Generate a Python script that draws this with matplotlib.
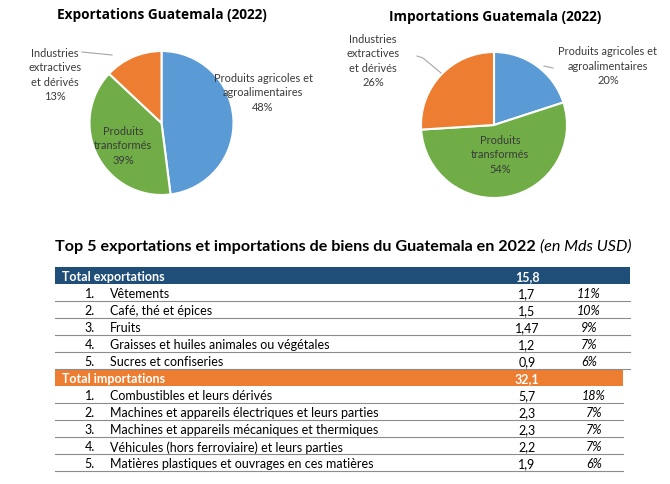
import matplotlib.pyplot as plt
from matplotlib.patches import Rectangle

W, H = 670, 485

# pie data (%)
pie_labels = ["Produits agricoles et\nagroalimentaires", "Produits\ntransformés", "Industries\nextractives\net dérivés"]
exp_shares = [48, 39, 13]
imp_shares = [20, 54, 26]
pie_colors = ["#5B9BD5", "#70AD47", "#ED7D31"]

# table data (Mds USD)
exp_total = 15.8
exp_items = ["Vêtements", "Café, thé et épices", "Fruits",
             "Graisses et huiles animales ou végétales", "Sucres et confiseries"]
exp_vals = [1.7, 1.5, 1.47, 1.2, 0.9]
exp_pcts = [11, 10, 9, 7, 6]

imp_total = 32.1
imp_items = ["Combustibles et leurs dérivés",
             "Machines et appareils électriques et leurs parties",
             "Machines et appareils mécaniques et thermiques",
             "Véhicules (hors ferroviaire) et leurs parties",
             "Matières plastiques et ouvrages en ces matières"]
imp_vals = [5.7, 2.3, 2.3, 2.2, 1.9]
imp_pcts = [18, 7, 7, 7, 6]


def fr(v):
    return str(v).replace('.', ',')


fig = plt.figure(figsize=(W / 100, H / 100), dpi=100)
base = fig.add_axes([0, 0, 1, 1])
base.set_xlim(0, W)
base.set_ylim(H, 0)
base.axis('off')
base.set_zorder(5)  # text and lines above the pies

lbl_font = dict(family='Lato', fontsize=7.9, color='#3A3A3A', ha='center', va='center', linespacing=1.4)
tab_fs = 9.0


def draw_pie(cx, cy, r, shares, title, tx, ty, label_pos):
    ax = fig.add_axes([(cx - r) / W, 1 - (cy + r) / H, 2 * r / W, 2 * r / H])
    ax.pie(shares, colors=pie_colors, startangle=90, counterclock=False,
           wedgeprops=dict(edgecolor='white', linewidth=1.5))
    ax.set_xlim(-1, 1)
    ax.set_ylim(-1, 1)
    ax.axis('off')
    base.text(tx, ty, title, family='Open Sans', fontweight='bold', fontsize=9.8,
              ha='center', va='center', color='black')
    for lab, s, (x, y) in zip(pie_labels, shares, label_pos):
        base.text(x, y, f"{lab}\n{s}%", **lbl_font)


draw_pie(161.5, 124, 72, exp_shares, "Exportations Guatemala (2022)", 162, 15,
         [(263, 93), (123, 146), (55, 75)])
draw_pie(494, 126, 73, imp_shares, "Importations Guatemala (2022)", 495, 17,
         [(608, 66), (500, 155), (373, 61)])

# leader lines
base.plot([82, 112], [53, 56], color='#A6A6A6', lw=0.8)
base.plot([417, 423, 441], [57, 59, 74], color='#A6A6A6', lw=0.8)
base.plot([544, 553], [67, 69], color='#A6A6A6', lw=0.8)

# table title
t1 = base.text(55, 247, "Top 5 exportations et importations de biens du Guatemala en 2022",
               family='Lato', fontweight='bold', fontsize=11.6, va='center', ha='left')
fig.canvas.draw()
bb = t1.get_window_extent()
x_end = bb.x1 + 4
base.text(x_end, 247, "(en Mds USD)", family='Lato', style='italic', fontsize=11.6,
          va='center', ha='left')

row_h = 17
x0 = 55
x_num = 95
x_item = 110
x_val = 527
x_pct = 589
dy = 1.0  # text sits slightly low in the cells


def draw_block(y, total, header, color, right, items, vals, pcts, pct_x):
    base.add_patch(Rectangle((x0, y), right - x0, row_h, facecolor=color, edgecolor='none'))
    base.text(62, y + row_h / 2 + dy, header, family='Lato', fontweight='bold', fontsize=tab_fs,
              color='white', va='center')
    base.text(x_val, y + row_h / 2 + dy, fr(total), family='Lato', fontweight='bold', fontsize=tab_fs,
              color='white', va='center', ha='center')
    for i, (it, v, p) in enumerate(zip(items, vals, pcts)):
        yy = y + row_h * (i + 1)
        ty = yy + row_h / 2 + dy
        base.text(x_num, ty, f"{i + 1}.", family='Lato', fontsize=tab_fs, va='center', ha='right')
        base.text(x_item, ty, it, family='Lato', fontsize=tab_fs, va='center', ha='left')
        base.text(x_val, ty, fr(v), family='Lato', fontsize=tab_fs, va='center', ha='center')
        base.text(pct_x, ty, f"{p}%", family='Lato', style='italic', fontsize=tab_fs,
                  va='center', ha='center')
        base.plot([x0, right], [yy + row_h, yy + row_h], color='#8C8C8C', lw=0.8)
    return y + row_h * (len(items) + 1)


y_next = draw_block(268, exp_total, "Total exportations", "#1F4E79", 630,
                    exp_items, exp_vals, exp_pcts, x_pct)
draw_block(y_next, imp_total, "Total importations", "#ED7D31", 623,
           imp_items, imp_vals, imp_pcts, x_pct + 5)

fig.savefig("out.png", dpi=100)
